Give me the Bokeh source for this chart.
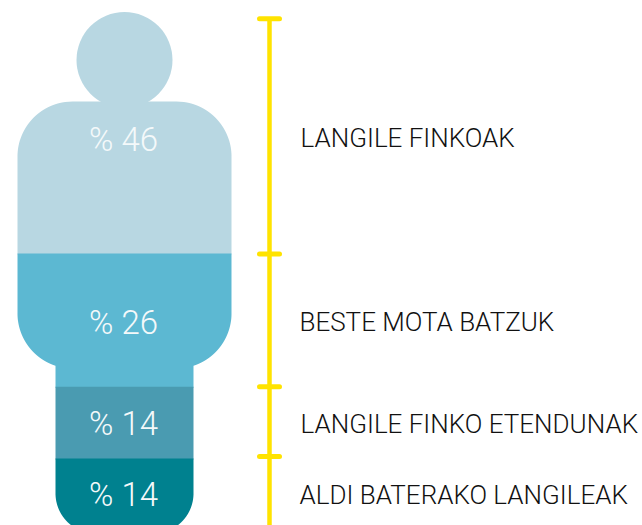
import math
from itertools import accumulate
from bokeh.plotting import figure
from bokeh.models import Range1d
from bokeh.core.properties import value
from bokeh.embed import file_html
from bokeh.resources import INLINE

# ---- data ----
categories = ["LANGILE FINKOAK", "BESTE MOTA BATZUK", "LANGILE FINKO ETENDUNAK", "ALDI BATERAKO LANGILEAK"]
shares = [46, 26, 14, 14]
share_labels = ["% 46", "% 26", "% 14", "% 14"]
scale_marks = [0.2, 46.1, 72.0, 85.6]

# ---- layout ----
band_colors = ["#b8d7e2", "#5cb8d2", "#4a9bb1", "#00818f"]
PX_PER_SHARE = 5.125
ZERO_PX = 17.25
CX = 124.0
W, H = 642, 525
ORIGIN = 0


def share_of(px):
    return (px - ZERO_PX) / PX_PER_SHARE


def px_of(share):
    return ZERO_PX + share * PX_PER_SHARE


def half_width(y):
    """Half width of the silhouette at page pixel row y."""
    if y < 156:
        d = 156 - y
        return 52 + math.sqrt(max(55 ** 2 - d ** 2, 0))
    if y < 313:
        return 107.0
    if y < 365.5:
        d = y - 313
        return max(52 + math.sqrt(max(55 ** 2 - d ** 2, 0)), 69.0)
    if y < 493:
        return 69.0
    d = y - 493
    return 29 + math.sqrt(max(40 ** 2 - d ** 2, 0))


p = figure(width=W, height=H, output_backend="svg", toolbar_location=None,
           x_range=Range1d(ORIGIN, ORIGIN + W), y_range=Range1d(share_of(ORIGIN + H), share_of(ORIGIN)),
           min_border=0, outline_line_color=None, background_fill_color="white")
p.xaxis.visible = False
p.yaxis.visible = False
p.grid.visible = False

# head
p.ellipse(x=[CX], y=[share_of(59.5)], width=96, height=96 / PX_PER_SHARE,
          fill_color=band_colors[0], line_color=None)

# stacked bands clipped by the silhouette; each runs slightly under the next one
ends = list(accumulate(shares))
starts = [0] + ends[:-1]
for i, (s, e) in enumerate(zip(starts, ends)):
    y0 = max(px_of(s), 101.0)
    y1 = px_of(e) + (1.0 if i < len(shares) - 1 else 0.0)
    n = int((y1 - y0) * 2) + 1
    rows = [y0 + (y1 - y0) * k / n for k in range(n + 1)]
    xs = [CX - half_width(y) for y in rows] + [CX + half_width(y) for y in reversed(rows)]
    ys = [share_of(y) for y in rows] + [share_of(y) for y in reversed(rows)]
    p.patch(xs, ys, fill_color=band_colors[i], line_color=None)

# yellow scale
p.segment(x0=[269], y0=[scale_marks[0]], x1=[269], y1=[100], line_color="#ffe300", line_width=4.5)
p.segment(x0=[259] * 4, y0=scale_marks, x1=[279] * 4, y1=scale_marks,
          line_color="#ffe300", line_width=5, line_cap="round")

# texts
share_text_px = [139, 322, 423, 494]
label_text_px = [137, 321, 423, 494]
label_x = [300, 299, 300, 299]
p.text(x=[CX - 1] * 4, y=[share_of(v) for v in share_text_px], text=share_labels,
       text_font=value("Roboto Light"), text_font_size="33px", text_color="#f4f9fa",
       text_align="center", text_baseline="middle")
p.text(x=label_x, y=[share_of(v) for v in label_text_px], text=categories,
       text_font=value("Roboto Light"), text_font_size="26px", text_color="#111111",
       text_align="left", text_baseline="middle")

open("out.html", "w").write(file_html(p, INLINE))
